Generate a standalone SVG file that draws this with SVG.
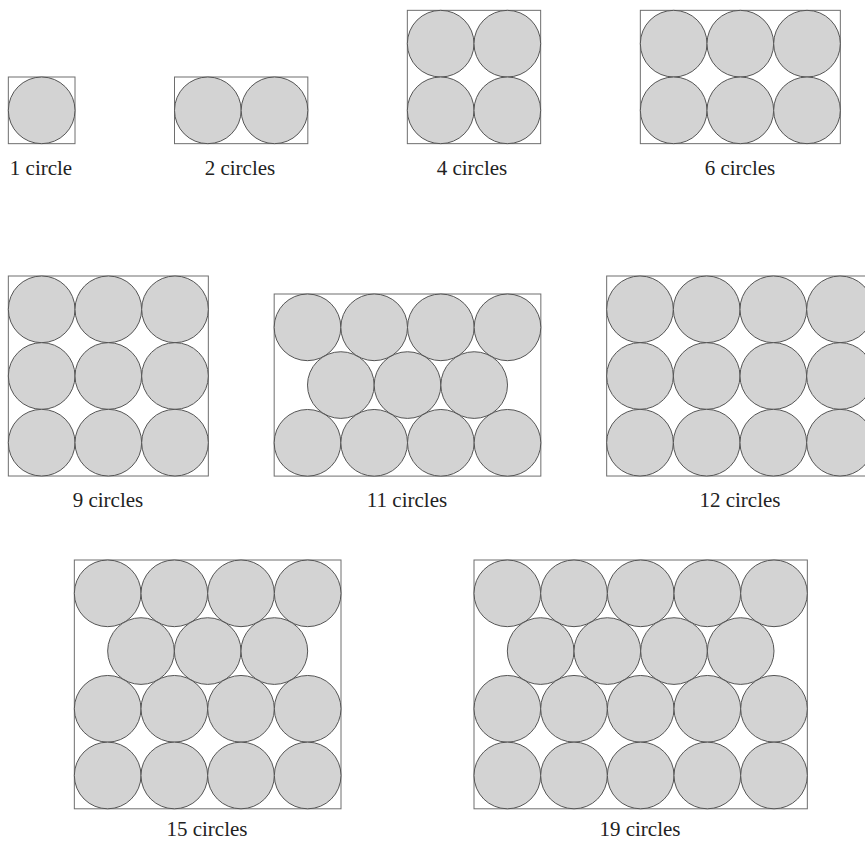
<svg xmlns="http://www.w3.org/2000/svg" width="865" height="841" viewBox="0 0 865 841" font-family="Liberation Serif, Times New Roman, DejaVu Serif, serif">
<style>
.box{fill:#fff;stroke:#6e6e6e;stroke-width:1}
.c{fill:#d3d3d3;stroke:#555;stroke-width:1}
.lbl{font-size:21px;fill:#222;text-anchor:middle}
</style>
<rect width="865" height="841" fill="#fff"/>
<g id="n1">
<rect class="box" x="8.33" y="77" width="66.67" height="66.67"/>
<circle class="c" cx="41.67" cy="110.33" r="33.33"/>
<text class="lbl" x="41" y="175" font-family="Liberation Serif, serif">1 circle</text>
</g>
<g id="n2">
<rect class="box" x="174.5" y="77" width="133.33" height="66.67"/>
<circle class="c" cx="207.83" cy="110.33" r="33.33"/>
<circle class="c" cx="274.5" cy="110.33" r="33.33"/>
<text class="lbl" x="240" y="175" font-family="Liberation Serif, serif">2 circles</text>
</g>
<g id="n4">
<rect class="box" x="407.33" y="10.33" width="133.33" height="133.33"/>
<circle class="c" cx="440.67" cy="43.67" r="33.33"/>
<circle class="c" cx="507.33" cy="43.67" r="33.33"/>
<circle class="c" cx="440.67" cy="110.33" r="33.33"/>
<circle class="c" cx="507.33" cy="110.33" r="33.33"/>
<text class="lbl" x="472" y="175" font-family="Liberation Serif, serif">4 circles</text>
</g>
<g id="n6">
<rect class="box" x="640.33" y="10.33" width="200" height="133.33"/>
<circle class="c" cx="673.67" cy="43.67" r="33.33"/>
<circle class="c" cx="740.33" cy="43.67" r="33.33"/>
<circle class="c" cx="807" cy="43.67" r="33.33"/>
<circle class="c" cx="673.67" cy="110.33" r="33.33"/>
<circle class="c" cx="740.33" cy="110.33" r="33.33"/>
<circle class="c" cx="807" cy="110.33" r="33.33"/>
<text class="lbl" x="740" y="175" font-family="Liberation Serif, serif">6 circles</text>
</g>
<g id="n9">
<rect class="box" x="8.33" y="276" width="200" height="200"/>
<circle class="c" cx="41.67" cy="309.33" r="33.33"/>
<circle class="c" cx="108.33" cy="309.33" r="33.33"/>
<circle class="c" cx="175" cy="309.33" r="33.33"/>
<circle class="c" cx="41.67" cy="376" r="33.33"/>
<circle class="c" cx="108.33" cy="376" r="33.33"/>
<circle class="c" cx="175" cy="376" r="33.33"/>
<circle class="c" cx="41.67" cy="442.67" r="33.33"/>
<circle class="c" cx="108.33" cy="442.67" r="33.33"/>
<circle class="c" cx="175" cy="442.67" r="33.33"/>
<text class="lbl" x="108" y="507" font-family="Liberation Serif, serif">9 circles</text>
</g>
<g id="n11">
<rect class="box" x="274.17" y="294" width="266.67" height="182.1"/>
<circle class="c" cx="307.5" cy="327.33" r="33.33"/>
<circle class="c" cx="374.17" cy="327.33" r="33.33"/>
<circle class="c" cx="440.83" cy="327.33" r="33.33"/>
<circle class="c" cx="507.5" cy="327.33" r="33.33"/>
<circle class="c" cx="340.83" cy="385.07" r="33.33"/>
<circle class="c" cx="407.5" cy="385.07" r="33.33"/>
<circle class="c" cx="474.17" cy="385.07" r="33.33"/>
<circle class="c" cx="307.5" cy="442.8" r="33.33"/>
<circle class="c" cx="374.17" cy="442.8" r="33.33"/>
<circle class="c" cx="440.83" cy="442.8" r="33.33"/>
<circle class="c" cx="507.5" cy="442.8" r="33.33"/>
<text class="lbl" x="407" y="507" font-family="Liberation Serif, serif">11 circles</text>
</g>
<g id="n12">
<rect class="box" x="606.67" y="276" width="266.67" height="200"/>
<circle class="c" cx="640" cy="309.33" r="33.33"/>
<circle class="c" cx="706.67" cy="309.33" r="33.33"/>
<circle class="c" cx="773.33" cy="309.33" r="33.33"/>
<circle class="c" cx="840" cy="309.33" r="33.33"/>
<circle class="c" cx="640" cy="376" r="33.33"/>
<circle class="c" cx="706.67" cy="376" r="33.33"/>
<circle class="c" cx="773.33" cy="376" r="33.33"/>
<circle class="c" cx="840" cy="376" r="33.33"/>
<circle class="c" cx="640" cy="442.67" r="33.33"/>
<circle class="c" cx="706.67" cy="442.67" r="33.33"/>
<circle class="c" cx="773.33" cy="442.67" r="33.33"/>
<circle class="c" cx="840" cy="442.67" r="33.33"/>
<text class="lbl" x="740" y="507" font-family="Liberation Serif, serif">12 circles</text>
</g>
<g id="n15">
<rect class="box" x="74.33" y="560" width="266.67" height="248.8"/>
<circle class="c" cx="107.67" cy="593.33" r="33.33"/>
<circle class="c" cx="174.33" cy="593.33" r="33.33"/>
<circle class="c" cx="241" cy="593.33" r="33.33"/>
<circle class="c" cx="307.67" cy="593.33" r="33.33"/>
<circle class="c" cx="141" cy="651.07" r="33.33"/>
<circle class="c" cx="207.67" cy="651.07" r="33.33"/>
<circle class="c" cx="274.33" cy="651.07" r="33.33"/>
<circle class="c" cx="107.67" cy="708.8" r="33.33"/>
<circle class="c" cx="174.33" cy="708.8" r="33.33"/>
<circle class="c" cx="241" cy="708.8" r="33.33"/>
<circle class="c" cx="307.67" cy="708.8" r="33.33"/>
<circle class="c" cx="107.67" cy="775.47" r="33.33"/>
<circle class="c" cx="174.33" cy="775.47" r="33.33"/>
<circle class="c" cx="241" cy="775.47" r="33.33"/>
<circle class="c" cx="307.67" cy="775.47" r="33.33"/>
<text class="lbl" x="207" y="836" font-family="Liberation Serif, serif">15 circles</text>
</g>
<g id="n19">
<rect class="box" x="474" y="560" width="333.33" height="248.8"/>
<circle class="c" cx="507.33" cy="593.33" r="33.33"/>
<circle class="c" cx="574" cy="593.33" r="33.33"/>
<circle class="c" cx="640.67" cy="593.33" r="33.33"/>
<circle class="c" cx="707.33" cy="593.33" r="33.33"/>
<circle class="c" cx="774" cy="593.33" r="33.33"/>
<circle class="c" cx="540.67" cy="651.07" r="33.33"/>
<circle class="c" cx="607.33" cy="651.07" r="33.33"/>
<circle class="c" cx="674" cy="651.07" r="33.33"/>
<circle class="c" cx="740.67" cy="651.07" r="33.33"/>
<circle class="c" cx="507.33" cy="708.8" r="33.33"/>
<circle class="c" cx="574" cy="708.8" r="33.33"/>
<circle class="c" cx="640.67" cy="708.8" r="33.33"/>
<circle class="c" cx="707.33" cy="708.8" r="33.33"/>
<circle class="c" cx="774" cy="708.8" r="33.33"/>
<circle class="c" cx="507.33" cy="775.47" r="33.33"/>
<circle class="c" cx="574" cy="775.47" r="33.33"/>
<circle class="c" cx="640.67" cy="775.47" r="33.33"/>
<circle class="c" cx="707.33" cy="775.47" r="33.33"/>
<circle class="c" cx="774" cy="775.47" r="33.33"/>
<text class="lbl" x="640" y="836" font-family="Liberation Serif, serif">19 circles</text>
</g>
<g id="connectors"/>
</svg>
